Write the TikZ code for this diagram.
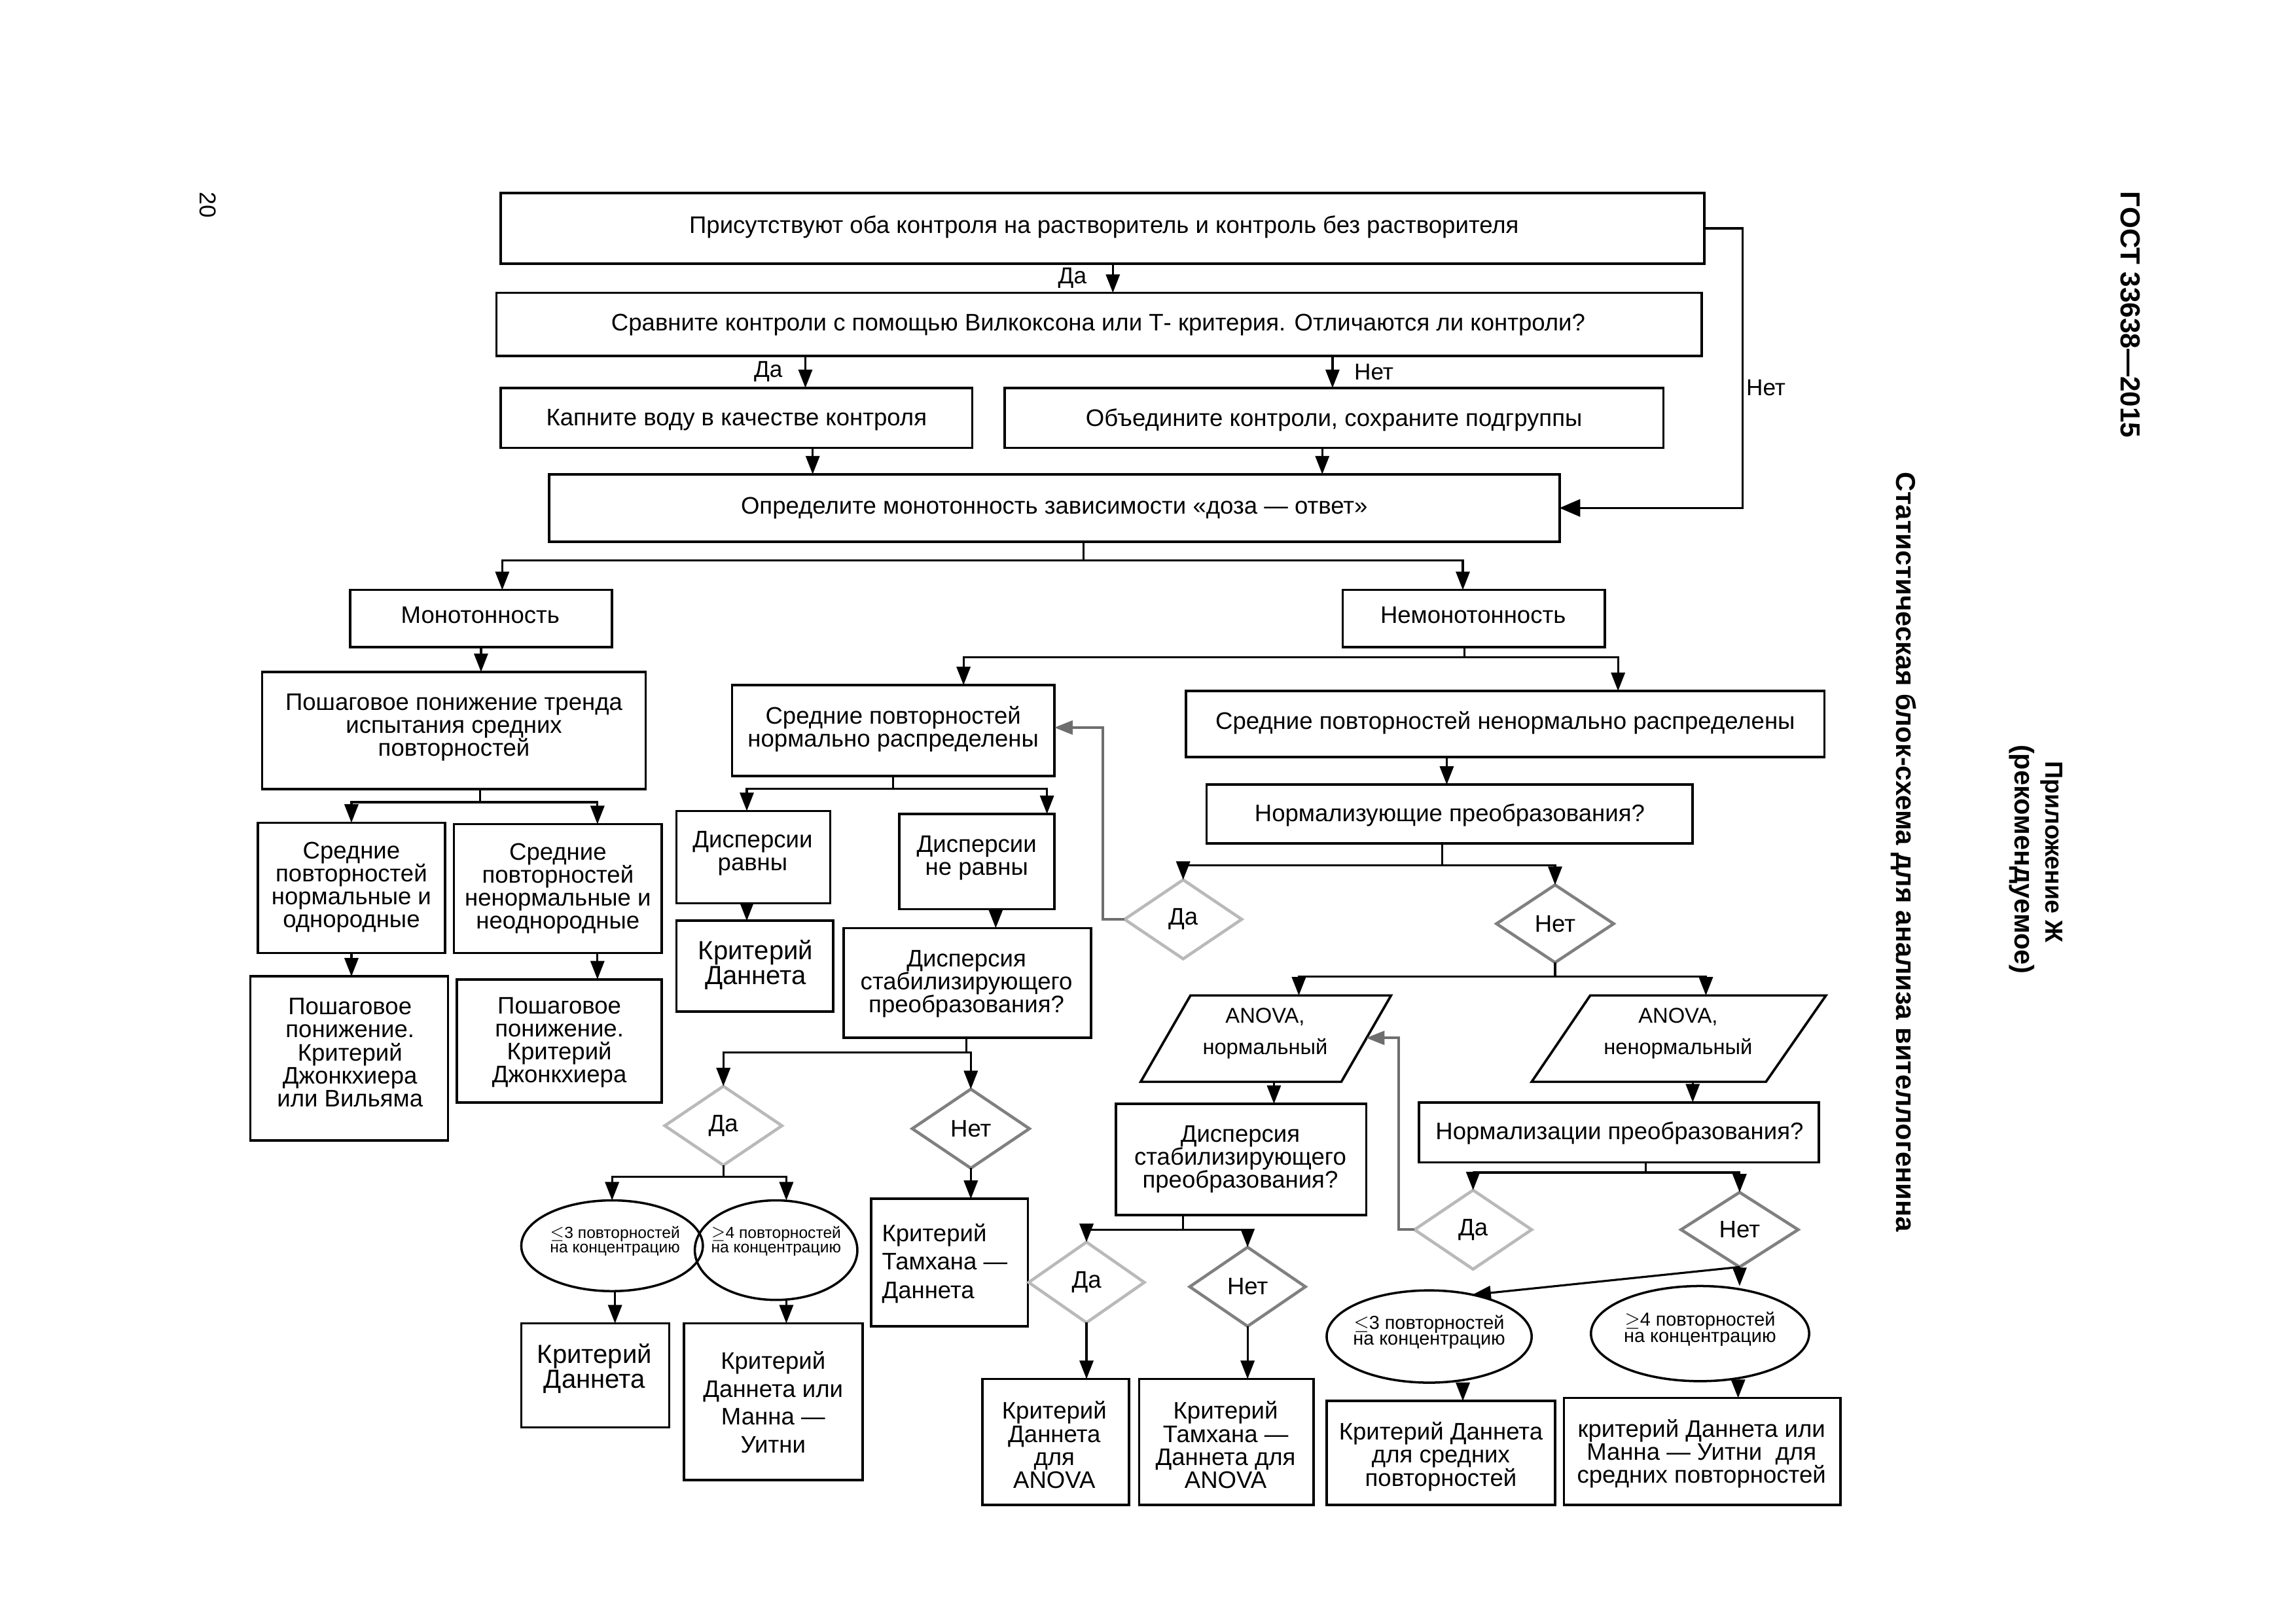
\documentclass[tikz,border=0pt]{standalone}
\usepackage{fontspec}
\setmainfont{Liberation Sans}
\usetikzlibrary{arrows.meta,shapes.geometric}
\definecolor{lgray}{RGB}{185,185,185}
\definecolor{mgray}{RGB}{128,128,128}
\definecolor{fgray}{RGB}{110,110,110}
\newcommand{\uu}{0.022372cm}
\newcommand{\fsz}[2]{\fontsize{#1}{#2}\selectfont}
\newcommand{\bx}[5]{\node[box, minimum width={(#4-#2)*\uu}, minimum height={(#5-#3)*\uu}] (#1) at ({(#2+#4)/2},{(#3+#5)/2}) {};}
\begin{document}
\begin{tikzpicture}[x=0.022372cm,y=-0.022372cm,
 box/.style={draw, line width=1.05pt, inner sep=0pt, outer sep=0pt},
 ln/.style={line width=0.9pt},
 arr/.style={line width=0.9pt, -{Triangle[width=6pt,length=8pt]}},
 fb/.style={draw=fgray, line width=1.1pt, -{Triangle[width=6pt,length=8pt]}},
 txt/.style={inner sep=0pt, align=center, font=\fsz{10.4}{10}},
 dia/.style={diamond, draw, line width=1.3pt, inner sep=0pt, outer sep=0pt, font=\fsz{10.4}{10}},
 dyes/.style={dia, draw=lgray},
 dno/.style={dia, draw=mgray},
 ell/.style={ellipse, draw, line width=1pt, inner sep=0pt, outer sep=0pt},
 lbl/.style={inner sep=0pt, font=\fsz{10}{12}},
 ttl/.style={inner sep=0pt, rotate=-90, font=\bfseries\fsz{11.5}{14}}
]
\fill[white] (0,0) rectangle (1568,1109);
\useasboundingbox (0,0) rectangle (1568,1109);

% ---------- side titles ----------
\node[inner sep=0pt, rotate=-90, font=\fsz{10}{12}] (pg) at (142,140) {20};
\node[ttl, font=\bfseries\fsz{12}{14}] (gost) at (1455,215) {ГОСТ 33638—2015};
\node[ttl, font=\bfseries\fsz{10.7}{14}] (app) at (1401,582) {Приложение Ж};
\node[ttl, font=\bfseries\fsz{11.8}{14}] (rec) at (1381,587) {(рекомендуемое)};
\node[ttl, font=\bfseries\fsz{11.85}{14}] (title) at (1300,582) {Статистическая блок-схема для анализа вителлогенина};

% ---------- top boxes ----------
\bx{b1}{342}{132}{1164}{180}
\node[txt] (b1t) at (754,155) {Присутствуют оба контроля на растворитель и контроль без растворителя};
\bx{b2}{339}{200}{1162}{243}
\node[txt] (b2t) at (750,222) {Сравните контроли с помощью Вилкоксона или Т- критерия. Отличаются ли контроли?};
\bx{b3}{342}{265}{664}{306}
\node[txt] (b3t) at (503,287) {Капните воду в качестве контроля};
\bx{b4}{686}{265}{1136}{306}
\node[txt] (b4t) at (911,287) {Объедините контроли, сохраните подгруппы};
\bx{b5}{375}{324}{1065}{370}
\node[txt] (b5t) at (720,347) {Определите монотонность зависимости «доза — ответ»};

\draw[arr] (b1.south -| 760,0) -- (b2.north -| 760,0) node[lbl, midway, left=11pt] (l1) {Да};
\draw[arr] (b2.south -| 550,0) -- (b3.north -| 550,0) node[lbl, midway, left=9.5pt] (l2) {Да};
\draw[arr] (b2.south -| 910,0) -- (b4.north -| 910,0) node[lbl, midway, right=9pt] (l3) {Нет};
\draw[arr] (b3.south -| 555,0) -- (b5.north -| 555,0);
\draw[arr] (b4.south -| 903,0) -- (b5.north -| 903,0);
\coordinate (r1) at (1190,157);
\draw[ln, -{Triangle[width=7.5pt,length=9pt]}] (b1.east) -- (b1.east -| r1) -- (r1 |- b5.east) -- (b5.east);
\node[lbl] (l4) at (1206,265) {Нет};

% ---------- monotone / non monotone ----------
\bx{mono}{239}{403}{418}{442}
\node[txt] (monot) at (328,420) {Монотонность};
\bx{nmono}{917}{403}{1096}{442}
\node[txt] (nmonot) at (1006,420) {Немонотонность};
\coordinate (j5) at (740,383);
\draw[ln] (b5.south -| j5) -- (j5);
\draw[arr] (j5) -| (mono.north -| 343,0);
\draw[arr] (j5) -| (nmono.north -| 999,0);

% ---------- left branch ----------
\bx{trend}{179}{459}{441}{539}
\node[txt] (trendt) at (310,497) {Пошаговое понижение тренда\\испытания средних\\повторностей};
\draw[arr] (mono.south) -- (trend.north -| mono.south);
\bx{snorm}{176}{562}{304}{651}
\node[txt] (snormt) at (240,606) {Средние\\повторностей\\нормальные и\\однородные};
\bx{snn}{310}{563}{452}{651}
\node[txt] (snnt) at (381,607) {Средние\\повторностей\\ненормальные и\\неоднородные};
\coordinate (j6) at (328,548);
\draw[ln] (trend.south -| j6) -- (j6);
\draw[arr] (j6) -| (snorm.north -| 240,0);
\draw[arr] (j6) -| (snn.north -| 408,0);
\bx{jw}{171}{667}{306}{779}
\node[txt] (jwt) at (239,719) {Пошаговое\\понижение.\\Критерий\\Джонкхиера\\или Вильяма};
\bx{jk}{312}{669}{452}{753}
\node[txt] (jkt) at (382,712) {Пошаговое\\понижение.\\Критерий\\Джонкхиера};
\draw[arr] (snorm.south -| 240,0) -- (jw.north -| 240,0);
\draw[arr] (snn.south -| 408,0) -- (jk.north -| 408,0);

% ---------- non monotone branch ----------
\bx{srn}{500}{468}{720}{530}
\node[txt] (srnt) at (610,498) {Средние повторностей\\нормально распределены};
\bx{srnn}{810}{472}{1246}{517}
\node[txt] (srnnt) at (1028,494) {Средние повторностей ненормально распределены};
\coordinate (j7) at (1000,449);
\draw[ln] (nmono.south -| j7) -- (j7);
\draw[arr] (j7) -| (srn.north -| 658,0);
\draw[arr] (j7) -| (srnn.north -| 1105,0);
\bx{norm1}{824}{536}{1156}{576}
\node[txt] (norm1t) at (990,557) {Нормализующие преобразования?};
\draw[arr] (srnn.south -| 988,0) -- (norm1.north -| 988,0);
\node[dyes, minimum width={80*\uu}, minimum height={54*\uu}] (dA1) at (808,628) {Да};
\node[dno, minimum width={80*\uu}, minimum height={53*\uu}] (dN1) at (1062,631) {Нет};
\coordinate (j8) at (985,591);
\draw[ln] (norm1.south -| j8) -- (j8);
\draw[arr] (j8) -| (dA1.north);
\draw[arr] (j8) -| (dN1.north);
\coordinate (f1) at (753,497);
\draw[fb] (dA1.west) -| (f1) -- (srn.east |- f1);

% normal means
\bx{deq}{462}{554}{567}{617}
\node[txt] (deqt) at (514,583) {Дисперсии\\равны};
\bx{dneq}{614}{556}{720}{621}
\node[txt] (dneqt) at (667,586) {Дисперсии\\не равны};
\coordinate (j9) at (610,539);
\draw[ln] (srn.south -| j9) -- (j9);
\draw[arr] (j9) -| (deq.north -| 510,0);
\draw[arr] (j9) -| (dneq.north -| 715,0);
\bx{dun1}{462}{629}{569}{691}
\node[txt, font=\fsz{11.4}{10.9}] (dun1t) at (516,659) {Критерий\\Даннета};
\draw[arr] (deq.south -| 510,0) -- (dun1.north -| 510,0);
\bx{dst1}{576}{634}{745}{709}
\node[txt] (dst1t) at (660,672) {Дисперсия\\стабилизирующего\\преобразования?};
\draw[arr] (dneq.south -| 680,0) -- (dst1.north -| 680,0);
\node[dyes, minimum width={80*\uu}, minimum height={54*\uu}] (dA2) at (494,769) {Да};
\node[dno, minimum width={80*\uu}, minimum height={54*\uu}] (dN2) at (663,771) {Нет};
\coordinate (j10) at (660,719);
\draw[ln] (dst1.south -| j10) -- (j10);
\draw[arr] (j10) -| (dA2.north);
\draw[arr] (j10) -| (dN2.north);
\node[ell, minimum width={124*\uu}, minimum height={62*\uu}] (e1) at (418,851) {};
\node[txt, font=\fsz{7}{6.3}] (e1t) at (420,848) {$\leq$3 повторностей\\на концентрацию};
\node[ell, minimum width={111*\uu}, minimum height={68*\uu}] (e2) at (530,854) {};
\node[txt, font=\fsz{7}{6.3}] (e2t) at (530,848) {$\geq$4 повторностей\\на концентрацию};
\coordinate (j11) at (494,804);
\draw[ln] (dA2.south) -- (j11);
\draw[arr] (j11) -| (e1.north -| 418,0);
\draw[arr] (j11) -| (e2.north -| 537,0);
\bx{dun2}{356}{904}{457}{975}
\node[txt, font=\fsz{11.4}{10.9}] (dun2t) at (406,935) {Критерий\\Даннета};
\bx{dmu}{467}{904}{589}{1011}
\node[txt, font=\fsz{10.4}{12.1}] (dmut) at (528,958) {Критерий\\Даннета или\\Манна —\\Уитни};
\draw[arr] (e1.south -| 420,0) -- (dun2.north -| 420,0);
\draw[arr] (e2.south -| 537,0) -- (dmu.north -| 537,0);
\bx{tam1}{595}{819}{702}{906}
\node[txt, align=left, anchor=west, font=\fsz{10.4}{12.4}] (tam1t) at (602,863) {Критерий\\Тамхана —\\Даннета};
\draw[arr] (dN2.south) -- (tam1.north -| dN2.south);

% non-normal: ANOVA branch
\draw[box] (813,680) coordinate (p1tl) -- (950,680) coordinate (p1tr) -- (916,739) coordinate (p1br) -- (779,739) coordinate (p1bl) -- cycle;
\node[txt, font=\fsz{9.3}{13.4}] (p1t) at (864,706) {ANOVA,\\нормальный};
\draw[box] (1086,680) coordinate (p2tl) -- (1247,680) coordinate (p2tr) -- (1206,739) coordinate (p2br) -- (1046,739) coordinate (p2bl) -- cycle;
\node[txt, font=\fsz{9.3}{13.4}] (p2t) at (1146,706) {ANOVA,\\ненормальный};
\coordinate (j12) at (1062,667);
\draw[ln] (dN1.south) -- (j12);
\draw[arr] (j12) -| (p1tl -| 887,0);
\draw[arr] (j12) -| (p2tl -| 1165,0);
\bx{dst2}{762}{754}{933}{830}
\node[txt] (dst2t) at (847,792) {Дисперсия\\стабилизирующего\\преобразования?};
\draw[arr] (p1bl -| 870,0) -- (dst2.north -| 870,0);
\bx{norm2}{969}{753}{1242}{794}
\node[txt] (norm2t) at (1106,774) {Нормализации преобразования?};
\draw[arr] (p2bl -| 1156,0) -- (norm2.north -| 1156,0);
\node[dyes, minimum width={79*\uu}, minimum height={55*\uu}] (dA3) at (742,876) {Да};
\node[dno, minimum width={79*\uu}, minimum height={54*\uu}] (dN3) at (852,879) {Нет};
\coordinate (j13) at (808,840);
\draw[ln] (dst2.south -| j13) -- (j13);
\draw[arr] (j13) -| (dA3.north);
\draw[arr] (j13) -| (dN3.north);
\bx{da4}{671}{942}{771}{1028}
\node[txt] (da4t) at (720,987) {Критерий\\Даннета\\для\\ANOVA};
\bx{tam2}{778}{942}{897}{1028}
\node[txt] (tam2t) at (837,987) {Критерий\\Тамхана —\\Даннета для\\ANOVA};
\draw[arr] (dA3.south) -- (da4.north -| dA3.south);
\draw[arr] (dN3.south) -- (tam2.north -| dN3.south);
\node[dyes, minimum width={80*\uu}, minimum height={54*\uu}] (dA4) at (1006,840) {Да};
\node[dno, minimum width={80*\uu}, minimum height={51*\uu}] (dN4) at (1188,840) {Нет};
\coordinate (j14) at (1124,801);
\draw[ln] (norm2.south -| j14) -- (j14);
\draw[arr] (j14) -| (dA4.north);
\draw[arr] (j14) -| (dN4.north);
\coordinate (f2) at (955,709);
\coordinate (p1r) at (933,709);
\draw[fb] (dA4.west) -| (f2) -- (p1r);
\node[ell, minimum width={140*\uu}, minimum height={63*\uu}] (e3) at (976,913) {};
\node[txt, font=\fsz{8.2}{7}] (e3t) at (976,910) {$\leq$3 повторностей\\на концентрацию};
\node[ell, minimum width={149*\uu}, minimum height={65*\uu}] (e4) at (1161,911) {};
\node[txt, font=\fsz{8.2}{7}] (e4t) at (1161,908) {$\geq$4 повторностей\\на концентрацию};
\draw[arr] (dN4.south) -- (e3.44);
\draw[arr] (dN4.south) -- (dN4.south |- e4.north);
\bx{dun3}{906}{957}{1062}{1028}
\node[txt] (dun3t) at (984,995) {Критерий Даннета\\для средних\\повторностей};
\bx{dmu2}{1068}{955}{1257}{1028}
\node[txt] (dmu2t) at (1162,993) {критерий Даннета или\\Манна — Уитни~ для\\средних повторностей};
\draw[arr] (e3.south -| 999,0) -- (dun3.north -| 999,0);
\draw[arr] (e4.south -| 1187,0) -- (dmu2.north -| 1187,0);
\end{tikzpicture}
\end{document}
